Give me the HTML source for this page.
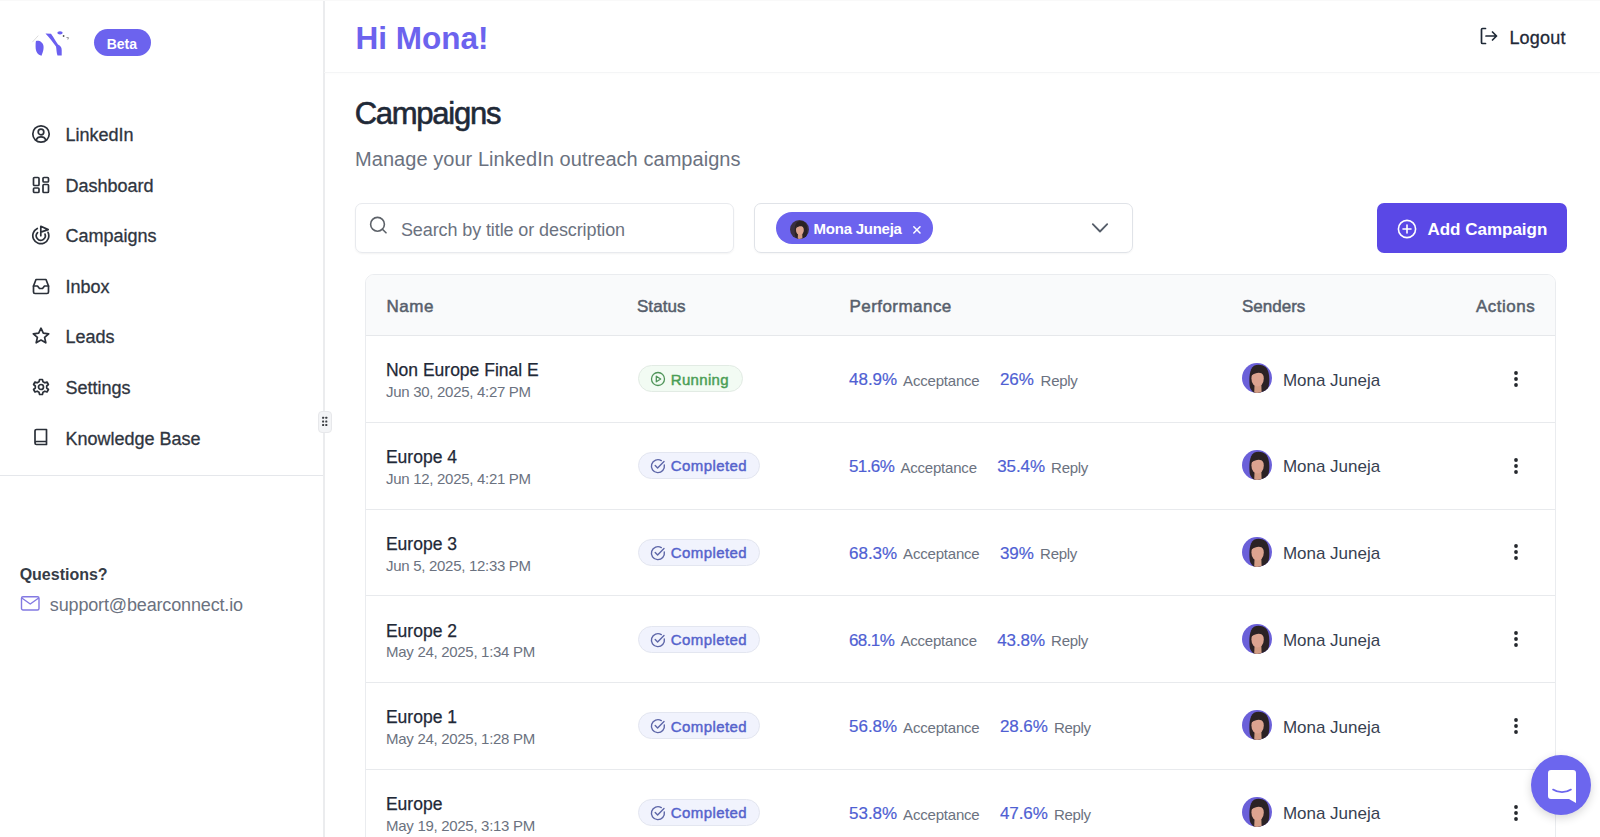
<!DOCTYPE html>
<html><head><meta charset="utf-8"><title>Campaigns</title>
<style>
html,body{margin:0;padding:0;width:1600px;height:837px;overflow:hidden;background:#fff;font-family:"Liberation Sans",sans-serif;}
.t{position:absolute;white-space:nowrap;line-height:1;}
.perf{display:flex;align-items:baseline;font-size:17px}
.perf .num{color:#4f5fd3;font-size:17px;-webkit-text-stroke:0.2px #4f5fd3}
.perf .lab{color:#6b7280;font-size:15px;margin-left:6px;letter-spacing:-0.2px}
</style></head><body>
<div style="position:absolute;left:0;top:0;width:323px;height:837px;border-right:2px solid #ebecee;background:#fff"></div>
<svg style="position:absolute;left:25px;top:25px" width="50" height="37" viewBox="0 0 50 37">
<path d="M11,16 C14,15 18,17 18.5,21 C19,25 17,29 16.5,30.7 C13,30 10.6,27 10.6,22 C10.6,19 10.6,17 11,16 Z" fill="#6b5ff0"/>
<path d="M20.5,8.5 L26,8.8 C29,13 31,17 33,19.5 C35.5,21 36.7,22 36.7,25 L36.7,30.5 L32.5,30.5 C31.5,28 31.5,24 31,21.5 C28,17 24,12.5 20.5,8.5 Z" fill="#6b5ff0"/>
<ellipse cx="35" cy="7.8" rx="2.7" ry="1.6" fill="#6b5ff0"/>
<circle cx="38.6" cy="11" r="0.9" fill="#555"/>
<path d="M41.5,12.5 L43.5,12.7 L42.8,14.5" stroke="#666" stroke-width="0.7" fill="none"/>
<path d="M7.3,17.2 L13.3,10.6" stroke="#bbb" stroke-width="0.5"/>
</svg>
<div style="position:absolute;left:94px;top:29px;width:57px;height:27px;border-radius:14px;background:#6c63ee"></div>
<div class="t" style="left:106.66px;top:36.55px;font-size:14px;font-weight:700;color:#fff;letter-spacing:0px;">Beta</div>
<svg style="position:absolute;left:30.5px;top:124.00px" width="20" height="20" viewBox="0 0 20 20" fill="none" stroke="#2b3039" stroke-width="1.7" stroke-linecap="round" stroke-linejoin="round"><circle cx="10" cy="10" r="8.2"/><circle cx="10" cy="8" r="2.8"/><path d="M5.3,15.7 C6,13.8 7.8,12.8 10,12.8 C12.2,12.8 14,13.8 14.7,15.7"/></svg>
<div class="t" style="left:65.42px;top:126.26px;font-size:18px;font-weight:400;color:#2f3540;letter-spacing:0px;-webkit-text-stroke:0.3px #2f3540;">LinkedIn</div>
<svg style="position:absolute;left:30.5px;top:174.54px" width="20" height="20" viewBox="0 0 20 20" fill="none" stroke="#2b3039" stroke-width="1.7" stroke-linecap="round" stroke-linejoin="round"><rect x="2.5" y="2.5" width="5.5" height="8" rx="1"/><rect x="12" y="2.5" width="5.5" height="4.5" rx="1"/><rect x="2.5" y="13" width="5.5" height="4.5" rx="1"/><rect x="12" y="9.5" width="5.5" height="8" rx="1"/></svg>
<div class="t" style="left:65.42px;top:176.80px;font-size:18px;font-weight:400;color:#2f3540;letter-spacing:0px;-webkit-text-stroke:0.3px #2f3540;">Dashboard</div>
<svg style="position:absolute;left:30.5px;top:225.08px" width="20" height="20" viewBox="0 0 20 20" fill="none" stroke="#2b3039" stroke-width="1.7" stroke-linecap="round" stroke-linejoin="round"><path d="M6.3,3.5 A8,8 0 1 0 17.05,7.32"/><path d="M6.56,7.57 A4.5,4.5 0 1 0 14.03,9.16"/><path d="M9.8,10.7 L9.8,1.3 L17.2,4.6 L9.8,7.1"/></svg>
<div class="t" style="left:65.42px;top:227.34px;font-size:18px;font-weight:400;color:#2f3540;letter-spacing:0px;-webkit-text-stroke:0.3px #2f3540;">Campaigns</div>
<svg style="position:absolute;left:30.5px;top:275.62px" width="20" height="20" viewBox="0 0 20 20" fill="none" stroke="#2b3039" stroke-width="1.7" stroke-linecap="round" stroke-linejoin="round"><path d="M2.5,10 L2.5,16 A1.5,1.5 0 0 0 4,17.5 L16,17.5 A1.5,1.5 0 0 0 17.5,16 L17.5,10 L15,3.5 L5,3.5 Z"/><path d="M2.5,10 L6.5,10 L8.5,12.5 L11.5,12.5 L13.5,10 L17.5,10"/></svg>
<div class="t" style="left:65.42px;top:277.88px;font-size:18px;font-weight:400;color:#2f3540;letter-spacing:0px;-webkit-text-stroke:0.3px #2f3540;">Inbox</div>
<svg style="position:absolute;left:30.5px;top:326.16px" width="20" height="20" viewBox="0 0 20 20" fill="none" stroke="#2b3039" stroke-width="1.7" stroke-linecap="round" stroke-linejoin="round"><path d="M10,2.2 L12.3,7.2 L17.7,7.8 L13.6,11.4 L14.8,16.8 L10,14 L5.2,16.8 L6.4,11.4 L2.3,7.8 L7.7,7.2 Z" stroke-linejoin="round"/></svg>
<div class="t" style="left:65.42px;top:328.42px;font-size:18px;font-weight:400;color:#2f3540;letter-spacing:0px;-webkit-text-stroke:0.3px #2f3540;">Leads</div>
<svg style="position:absolute;left:30.5px;top:376.70px" width="20" height="20" viewBox="0 0 20 20" fill="none" stroke="#2b3039" stroke-width="1.7" stroke-linecap="round" stroke-linejoin="round"><path d="M8.6,2.5 L11.4,2.5 L12,4.8 L13.8,5.8 L16,5 L17.4,7.5 L15.7,9 L15.7,11 L17.4,12.5 L16,15 L13.8,14.2 L12,15.2 L11.4,17.5 L8.6,17.5 L8,15.2 L6.2,14.2 L4,15 L2.6,12.5 L4.3,11 L4.3,9 L2.6,7.5 L4,5 L6.2,5.8 L8,4.8 Z" stroke-linejoin="round"/><circle cx="10" cy="10" r="2.5"/></svg>
<div class="t" style="left:65.42px;top:378.96px;font-size:18px;font-weight:400;color:#2f3540;letter-spacing:0px;-webkit-text-stroke:0.3px #2f3540;">Settings</div>
<svg style="position:absolute;left:30.5px;top:427.24px" width="20" height="20" viewBox="0 0 20 20" fill="none" stroke="#2b3039" stroke-width="1.7" stroke-linecap="round" stroke-linejoin="round"><path d="M4,16 L4,4 A1.5,1.5 0 0 1 5.5,2.5 L15.5,2.5 L15.5,17.5 L5.5,17.5 A1.5,1.5 0 0 1 4,16 A1.5,1.5 0 0 1 5.5,14.5 L15.5,14.5"/></svg>
<div class="t" style="left:65.42px;top:429.50px;font-size:18px;font-weight:400;color:#2f3540;letter-spacing:0px;-webkit-text-stroke:0.3px #2f3540;">Knowledge Base</div>
<div style="position:absolute;left:0;top:475px;width:323px;height:1px;background:#e5e7eb"></div>
<div class="t" style="left:19.64px;top:567.26px;font-size:16px;font-weight:700;color:#363c46;letter-spacing:0px;">Questions?</div>
<svg style="position:absolute;left:20px;top:595px" width="21" height="17" viewBox="0 0 21 17" fill="none" stroke="#8379e2" stroke-width="1.4" stroke-linejoin="round"><rect x="1.5" y="1.8" width="17.5" height="13.2" rx="1.5"/><path d="M1.8,3 L10.25,9 L18.7,3"/></svg>
<div class="t" style="left:49.82px;top:595.96px;font-size:18px;font-weight:400;color:#6b7280;letter-spacing:-0.15px;">support@bearconnect.io</div>
<div style="position:absolute;left:318px;top:411px;width:11.5px;height:19.5px;border-radius:4px;background:#f3f4f6;border:1px solid #e7e8eb"></div>
<svg style="position:absolute;left:318px;top:411px" width="14" height="21" viewBox="0 0 14 21" fill="#3a3d42"><rect x="4.1" y="5.8" width="2" height="2" rx="0.5"/><rect x="7.3" y="5.8" width="2" height="2" rx="0.5"/><rect x="4.1" y="9.4" width="2" height="2" rx="0.5"/><rect x="7.3" y="9.4" width="2" height="2" rx="0.5"/><rect x="4.1" y="13" width="2" height="2" rx="0.5"/><rect x="7.3" y="13" width="2" height="2" rx="0.5"/></svg>
<div style="position:absolute;left:0;top:0;width:1600px;height:1px;background:#f9f9f9"></div>
<div style="position:absolute;left:324px;top:72px;width:1276px;height:1px;background:#f4f5f6;box-shadow:0 1px 2px rgba(0,0,0,0.02)"></div>
<div class="t" style="left:355.61px;top:23.04px;font-size:31.5px;font-weight:700;color:#6c63ee;letter-spacing:0px;">Hi Mona!</div>
<svg style="position:absolute;left:1478px;top:26px" width="22" height="20" viewBox="0 0 22 20" fill="none" stroke="#1f2937" stroke-width="1.7" stroke-linecap="round" stroke-linejoin="round"><path d="M7.5,2.5 L4.5,2.5 A1,1 0 0 0 3.5,3.5 L3.5,16.5 A1,1 0 0 0 4.5,17.5 L7.5,17.5"/><path d="M8,10 L18.5,10 M14.5,6 L18.5,10 L14.5,14"/></svg>
<div class="t" style="left:1509.42px;top:29.06px;font-size:18px;font-weight:400;color:#1f2937;letter-spacing:0.2px;-webkit-text-stroke:0.3px #1f2937;">Logout</div>
<div class="t" style="left:354.64px;top:98.16px;font-size:31px;font-weight:400;color:#1f2937;letter-spacing:-1.25px;-webkit-text-stroke:0.6px #1f2937;">Campaigns</div>
<div class="t" style="left:355.05px;top:149.32px;font-size:20px;font-weight:400;color:#6b7280;letter-spacing:0.05px;">Manage your LinkedIn outreach campaigns</div>
<div style="position:absolute;left:355px;top:203px;width:377px;height:48px;border:1px solid #e8eaee;border-radius:7px;box-shadow:0 1px 2px rgba(0,0,0,0.05)"></div>
<svg style="position:absolute;left:367px;top:216px" width="22" height="22" viewBox="0 0 22 22" fill="none" stroke="#5d6269" stroke-width="1.6" stroke-linecap="round"><circle cx="10.5" cy="8.3" r="6.9"/><path d="M15.4,13.2 L19,16.8"/></svg>
<div class="t" style="left:400.92px;top:220.76px;font-size:18px;font-weight:400;color:#6b7280;letter-spacing:-0.1px;">Search by title or description</div>
<div style="position:absolute;left:754px;top:203px;width:377px;height:48px;border:1px solid #e0e3e8;border-radius:7px;box-shadow:0 1px 2px rgba(0,0,0,0.04)"></div>
<div style="position:absolute;left:776px;top:212px;width:157px;height:32px;border-radius:16px;background:#6c63ee"></div>
<svg style="position:absolute;left:789.50px;top:219.50px" width="19.0" height="19.0" viewBox="0 0 30 30"><defs><clipPath id="c1"><circle cx="15" cy="15" r="15"/></clipPath></defs><g clip-path="url(#c1)"><rect width="30" height="30" fill="#3b3040"/><path d="M7.8,24 C6.8,16 7.2,6 12,2.8 C15,1 20,1.2 23.5,4 C27,7 27.6,14 27.2,20 C26.8,25 25,28 23,30 L19,30 L12,30 C9.8,28 8.3,26 7.8,24 Z" fill="#2b2225"/><path d="M12.6,20 L19.3,20 L19.6,30 L12.2,30 Z" fill="#d29c84"/><ellipse cx="15.6" cy="15.6" rx="6.2" ry="8" fill="#dca390"/><path d="M9.4,12.5 C10.3,6.5 13.8,4.6 17.4,5 C21,5.5 22.4,8.5 22.2,12.8 C20,9.2 15,8.6 9.4,12.5 Z" fill="#2b2225"/></g></svg>
<div class="t" style="left:813.60px;top:221.05px;font-size:15px;font-weight:700;color:#fff;letter-spacing:-0.25px;">Mona Juneja</div>
<svg style="position:absolute;left:911px;top:223.5px" width="12" height="12" viewBox="0 0 12 12" stroke="#fff" stroke-width="1.5" stroke-linecap="round"><path d="M2.8,2.8 L9,9 M9,2.8 L2.8,9"/></svg>
<svg style="position:absolute;left:1090px;top:221px" width="20" height="14" viewBox="0 0 20 14" fill="none" stroke="#555d69" stroke-width="1.8" stroke-linecap="round" stroke-linejoin="round"><path d="M2.8,3.2 L10,10.5 L17.2,3.2"/></svg>
<div style="position:absolute;left:1377px;top:203px;width:190px;height:50px;border-radius:7px;background:#5a48e6"></div>
<svg style="position:absolute;left:1396px;top:217.5px" width="22" height="22" viewBox="0 0 22 22" fill="none" stroke="#fff" stroke-width="1.6" stroke-linecap="round"><circle cx="11" cy="11" r="8.6"/><path d="M11,7 L11,15 M7,11 L15,11"/></svg>
<div class="t" style="left:1427.38px;top:220.61px;font-size:17px;font-weight:700;color:#fff;letter-spacing:0px;">Add Campaign</div>
<div style="position:absolute;left:365px;top:273.5px;width:1189px;height:700px;border:1px solid #eaecef;border-radius:9px;background:#fff;overflow:hidden"><div style="position:absolute;left:0;top:0;width:100%;height:60.5px;background:#f9fafb;border-bottom:1px solid #e6e8eb"></div></div>
<div class="t" style="left:386.38px;top:297.61px;font-size:17px;font-weight:400;color:#575f6c;letter-spacing:0.6px;-webkit-text-stroke:0.5px #575f6c;">Name</div>
<div class="t" style="left:636.88px;top:297.61px;font-size:17px;font-weight:400;color:#575f6c;letter-spacing:0.1px;-webkit-text-stroke:0.5px #575f6c;">Status</div>
<div class="t" style="left:849.48px;top:297.61px;font-size:17px;font-weight:400;color:#575f6c;letter-spacing:0.45px;-webkit-text-stroke:0.5px #575f6c;">Performance</div>
<div class="t" style="left:1241.98px;top:297.61px;font-size:17px;font-weight:400;color:#575f6c;letter-spacing:0px;-webkit-text-stroke:0.5px #575f6c;">Senders</div>
<div class="t" style="left:1475.98px;top:297.61px;font-size:17px;font-weight:400;color:#575f6c;letter-spacing:0.5px;-webkit-text-stroke:0.5px #575f6c;">Actions</div>
<div class="t" style="left:385.95px;top:362.46px;font-size:17.5px;font-weight:400;color:#1f2937;letter-spacing:0px;-webkit-text-stroke:0.25px #1f2937;">Non Europe Final E</div>
<div class="t" style="left:386.10px;top:384.08px;font-size:15px;font-weight:400;color:#6b7280;letter-spacing:-0.3px;">Jun 30, 2025, 4:27 PM</div>
<div style="position:absolute;left:637.5px;top:365.48px;width:103px;height:25px;border-radius:14px;background:#f2fbf3;border:1px solid #e2ebe4"></div>
<svg style="position:absolute;left:649px;top:370.27px" width="18" height="18" viewBox="0 0 18 18" fill="none" stroke="#4f9459" stroke-width="1.3" stroke-linejoin="round"><circle cx="9" cy="9" r="6.5"/><path d="M7.3,6.2 L11.7,9 L7.3,11.8 Z"/></svg>
<div class="t" style="left:670.85px;top:371.68px;font-size:15px;font-weight:400;color:#4a9e55;letter-spacing:0.3px;-webkit-text-stroke:0.45px #4a9e55;">Running</div>
<div class="t" style="left:848.98px;top:371.28px;font-size:17px;font-weight:400;color:#4f5fd3;letter-spacing:0px;-webkit-text-stroke:0.2px #4f5fd3;">48.9%</div>
<div class="t" style="left:903.10px;top:372.98px;font-size:15px;font-weight:400;color:#6b7280;letter-spacing:-0.2px;">Acceptance</div>
<div class="t" style="left:999.98px;top:371.28px;font-size:17px;font-weight:400;color:#4f5fd3;letter-spacing:-0.1px;-webkit-text-stroke:0.2px #4f5fd3;">26%</div>
<div class="t" style="left:1040.60px;top:372.98px;font-size:15px;font-weight:400;color:#6b7280;letter-spacing:-0.3px;">Reply</div>
<svg style="position:absolute;left:1242.00px;top:363.48px" width="30" height="30" viewBox="0 0 30 30"><defs><clipPath id="c2"><circle cx="15" cy="15" r="15"/></clipPath></defs><g clip-path="url(#c2)"><rect width="30" height="30" fill="#6b60d9"/><path d="M7.8,24 C6.8,16 7.2,6 12,2.8 C15,1 20,1.2 23.5,4 C27,7 27.6,14 27.2,20 C26.8,25 25,28 23,30 L19,30 L12,30 C9.8,28 8.3,26 7.8,24 Z" fill="#2b2225"/><path d="M12.6,20 L19.3,20 L19.6,30 L12.2,30 Z" fill="#d29c84"/><ellipse cx="15.6" cy="15.6" rx="6.2" ry="8" fill="#dca390"/><path d="M9.4,12.5 C10.3,6.5 13.8,4.6 17.4,5 C21,5.5 22.4,8.5 22.2,12.8 C20,9.2 15,8.6 9.4,12.5 Z" fill="#2b2225"/></g></svg>
<div class="t" style="left:1282.88px;top:371.58px;font-size:17px;font-weight:400;color:#374151;letter-spacing:0px;">Mona Juneja</div>
<svg style="position:absolute;left:1509.8px;top:366.88px" width="12" height="24" viewBox="0 0 12 24" fill="#25282d"><circle cx="6" cy="6" r="1.9"/><circle cx="6" cy="12" r="1.9"/><circle cx="6" cy="18" r="1.9"/></svg>
<div style="position:absolute;left:366px;top:421.75px;width:1189px;height:1px;background:#e8eaed"></div>
<div class="t" style="left:385.95px;top:449.21px;font-size:17.5px;font-weight:400;color:#1f2937;letter-spacing:0px;-webkit-text-stroke:0.25px #1f2937;">Europe 4</div>
<div class="t" style="left:386.10px;top:470.83px;font-size:15px;font-weight:400;color:#6b7280;letter-spacing:-0.3px;">Jun 12, 2025, 4:21 PM</div>
<div style="position:absolute;left:637.5px;top:452.23px;width:120.5px;height:25px;border-radius:14px;background:#f1f3fd;border:1px solid #e3e6f0"></div>
<svg style="position:absolute;left:649px;top:457.02px" width="18" height="18" viewBox="0 0 18 18" fill="none" stroke="#5d66a8" stroke-width="1.4" stroke-linecap="round" stroke-linejoin="round"><path d="M15.3,8 A6.5,6.5 0 1 1 12.3,3.6"/><path d="M6.2,8.6 L8.6,11 L15,4.6"/></svg>
<div class="t" style="left:670.85px;top:458.33px;font-size:15px;font-weight:400;color:#5563cc;letter-spacing:0.4px;-webkit-text-stroke:0.45px #5563cc;">Completed</div>
<div class="t" style="left:848.98px;top:458.03px;font-size:17px;font-weight:400;color:#4f5fd3;letter-spacing:-0.6px;-webkit-text-stroke:0.2px #4f5fd3;">51.6%</div>
<div class="t" style="left:900.40px;top:459.73px;font-size:15px;font-weight:400;color:#6b7280;letter-spacing:-0.2px;">Acceptance</div>
<div class="t" style="left:997.28px;top:458.03px;font-size:17px;font-weight:400;color:#4f5fd3;letter-spacing:-0.1px;-webkit-text-stroke:0.2px #4f5fd3;">35.4%</div>
<div class="t" style="left:1051.10px;top:459.73px;font-size:15px;font-weight:400;color:#6b7280;letter-spacing:-0.3px;">Reply</div>
<svg style="position:absolute;left:1242.00px;top:450.23px" width="30" height="30" viewBox="0 0 30 30"><defs><clipPath id="c3"><circle cx="15" cy="15" r="15"/></clipPath></defs><g clip-path="url(#c3)"><rect width="30" height="30" fill="#6b60d9"/><path d="M7.8,24 C6.8,16 7.2,6 12,2.8 C15,1 20,1.2 23.5,4 C27,7 27.6,14 27.2,20 C26.8,25 25,28 23,30 L19,30 L12,30 C9.8,28 8.3,26 7.8,24 Z" fill="#2b2225"/><path d="M12.6,20 L19.3,20 L19.6,30 L12.2,30 Z" fill="#d29c84"/><ellipse cx="15.6" cy="15.6" rx="6.2" ry="8" fill="#dca390"/><path d="M9.4,12.5 C10.3,6.5 13.8,4.6 17.4,5 C21,5.5 22.4,8.5 22.2,12.8 C20,9.2 15,8.6 9.4,12.5 Z" fill="#2b2225"/></g></svg>
<div class="t" style="left:1282.88px;top:458.33px;font-size:17px;font-weight:400;color:#374151;letter-spacing:0px;">Mona Juneja</div>
<svg style="position:absolute;left:1509.8px;top:453.62px" width="12" height="24" viewBox="0 0 12 24" fill="#25282d"><circle cx="6" cy="6" r="1.9"/><circle cx="6" cy="12" r="1.9"/><circle cx="6" cy="18" r="1.9"/></svg>
<div style="position:absolute;left:366px;top:508.50px;width:1189px;height:1px;background:#e8eaed"></div>
<div class="t" style="left:385.95px;top:535.96px;font-size:17.5px;font-weight:400;color:#1f2937;letter-spacing:0px;-webkit-text-stroke:0.25px #1f2937;">Europe 3</div>
<div class="t" style="left:386.10px;top:557.58px;font-size:15px;font-weight:400;color:#6b7280;letter-spacing:-0.3px;">Jun 5, 2025, 12:33 PM</div>
<div style="position:absolute;left:637.5px;top:538.98px;width:120.5px;height:25px;border-radius:14px;background:#f1f3fd;border:1px solid #e3e6f0"></div>
<svg style="position:absolute;left:649px;top:543.77px" width="18" height="18" viewBox="0 0 18 18" fill="none" stroke="#5d66a8" stroke-width="1.4" stroke-linecap="round" stroke-linejoin="round"><path d="M15.3,8 A6.5,6.5 0 1 1 12.3,3.6"/><path d="M6.2,8.6 L8.6,11 L15,4.6"/></svg>
<div class="t" style="left:670.85px;top:545.08px;font-size:15px;font-weight:400;color:#5563cc;letter-spacing:0.4px;-webkit-text-stroke:0.45px #5563cc;">Completed</div>
<div class="t" style="left:848.98px;top:544.78px;font-size:17px;font-weight:400;color:#4f5fd3;letter-spacing:0px;-webkit-text-stroke:0.2px #4f5fd3;">68.3%</div>
<div class="t" style="left:903.10px;top:546.48px;font-size:15px;font-weight:400;color:#6b7280;letter-spacing:-0.2px;">Acceptance</div>
<div class="t" style="left:999.98px;top:544.78px;font-size:17px;font-weight:400;color:#4f5fd3;letter-spacing:-0.1px;-webkit-text-stroke:0.2px #4f5fd3;">39%</div>
<div class="t" style="left:1040.10px;top:546.48px;font-size:15px;font-weight:400;color:#6b7280;letter-spacing:-0.3px;">Reply</div>
<svg style="position:absolute;left:1242.00px;top:536.98px" width="30" height="30" viewBox="0 0 30 30"><defs><clipPath id="c4"><circle cx="15" cy="15" r="15"/></clipPath></defs><g clip-path="url(#c4)"><rect width="30" height="30" fill="#6b60d9"/><path d="M7.8,24 C6.8,16 7.2,6 12,2.8 C15,1 20,1.2 23.5,4 C27,7 27.6,14 27.2,20 C26.8,25 25,28 23,30 L19,30 L12,30 C9.8,28 8.3,26 7.8,24 Z" fill="#2b2225"/><path d="M12.6,20 L19.3,20 L19.6,30 L12.2,30 Z" fill="#d29c84"/><ellipse cx="15.6" cy="15.6" rx="6.2" ry="8" fill="#dca390"/><path d="M9.4,12.5 C10.3,6.5 13.8,4.6 17.4,5 C21,5.5 22.4,8.5 22.2,12.8 C20,9.2 15,8.6 9.4,12.5 Z" fill="#2b2225"/></g></svg>
<div class="t" style="left:1282.88px;top:545.08px;font-size:17px;font-weight:400;color:#374151;letter-spacing:0px;">Mona Juneja</div>
<svg style="position:absolute;left:1509.8px;top:540.38px" width="12" height="24" viewBox="0 0 12 24" fill="#25282d"><circle cx="6" cy="6" r="1.9"/><circle cx="6" cy="12" r="1.9"/><circle cx="6" cy="18" r="1.9"/></svg>
<div style="position:absolute;left:366px;top:595.25px;width:1189px;height:1px;background:#e8eaed"></div>
<div class="t" style="left:385.95px;top:622.71px;font-size:17.5px;font-weight:400;color:#1f2937;letter-spacing:0px;-webkit-text-stroke:0.25px #1f2937;">Europe 2</div>
<div class="t" style="left:386.10px;top:644.33px;font-size:15px;font-weight:400;color:#6b7280;letter-spacing:-0.3px;">May 24, 2025, 1:34 PM</div>
<div style="position:absolute;left:637.5px;top:625.73px;width:120.5px;height:25px;border-radius:14px;background:#f1f3fd;border:1px solid #e3e6f0"></div>
<svg style="position:absolute;left:649px;top:630.52px" width="18" height="18" viewBox="0 0 18 18" fill="none" stroke="#5d66a8" stroke-width="1.4" stroke-linecap="round" stroke-linejoin="round"><path d="M15.3,8 A6.5,6.5 0 1 1 12.3,3.6"/><path d="M6.2,8.6 L8.6,11 L15,4.6"/></svg>
<div class="t" style="left:670.85px;top:631.83px;font-size:15px;font-weight:400;color:#5563cc;letter-spacing:0.4px;-webkit-text-stroke:0.45px #5563cc;">Completed</div>
<div class="t" style="left:848.98px;top:631.53px;font-size:17px;font-weight:400;color:#4f5fd3;letter-spacing:-0.6px;-webkit-text-stroke:0.2px #4f5fd3;">68.1%</div>
<div class="t" style="left:900.40px;top:633.23px;font-size:15px;font-weight:400;color:#6b7280;letter-spacing:-0.2px;">Acceptance</div>
<div class="t" style="left:997.28px;top:631.53px;font-size:17px;font-weight:400;color:#4f5fd3;letter-spacing:-0.1px;-webkit-text-stroke:0.2px #4f5fd3;">43.8%</div>
<div class="t" style="left:1051.10px;top:633.23px;font-size:15px;font-weight:400;color:#6b7280;letter-spacing:-0.3px;">Reply</div>
<svg style="position:absolute;left:1242.00px;top:623.73px" width="30" height="30" viewBox="0 0 30 30"><defs><clipPath id="c5"><circle cx="15" cy="15" r="15"/></clipPath></defs><g clip-path="url(#c5)"><rect width="30" height="30" fill="#6b60d9"/><path d="M7.8,24 C6.8,16 7.2,6 12,2.8 C15,1 20,1.2 23.5,4 C27,7 27.6,14 27.2,20 C26.8,25 25,28 23,30 L19,30 L12,30 C9.8,28 8.3,26 7.8,24 Z" fill="#2b2225"/><path d="M12.6,20 L19.3,20 L19.6,30 L12.2,30 Z" fill="#d29c84"/><ellipse cx="15.6" cy="15.6" rx="6.2" ry="8" fill="#dca390"/><path d="M9.4,12.5 C10.3,6.5 13.8,4.6 17.4,5 C21,5.5 22.4,8.5 22.2,12.8 C20,9.2 15,8.6 9.4,12.5 Z" fill="#2b2225"/></g></svg>
<div class="t" style="left:1282.88px;top:631.83px;font-size:17px;font-weight:400;color:#374151;letter-spacing:0px;">Mona Juneja</div>
<svg style="position:absolute;left:1509.8px;top:627.12px" width="12" height="24" viewBox="0 0 12 24" fill="#25282d"><circle cx="6" cy="6" r="1.9"/><circle cx="6" cy="12" r="1.9"/><circle cx="6" cy="18" r="1.9"/></svg>
<div style="position:absolute;left:366px;top:682.00px;width:1189px;height:1px;background:#e8eaed"></div>
<div class="t" style="left:385.95px;top:709.46px;font-size:17.5px;font-weight:400;color:#1f2937;letter-spacing:0px;-webkit-text-stroke:0.25px #1f2937;">Europe 1</div>
<div class="t" style="left:386.10px;top:731.08px;font-size:15px;font-weight:400;color:#6b7280;letter-spacing:-0.3px;">May 24, 2025, 1:28 PM</div>
<div style="position:absolute;left:637.5px;top:712.48px;width:120.5px;height:25px;border-radius:14px;background:#f1f3fd;border:1px solid #e3e6f0"></div>
<svg style="position:absolute;left:649px;top:717.27px" width="18" height="18" viewBox="0 0 18 18" fill="none" stroke="#5d66a8" stroke-width="1.4" stroke-linecap="round" stroke-linejoin="round"><path d="M15.3,8 A6.5,6.5 0 1 1 12.3,3.6"/><path d="M6.2,8.6 L8.6,11 L15,4.6"/></svg>
<div class="t" style="left:670.85px;top:718.58px;font-size:15px;font-weight:400;color:#5563cc;letter-spacing:0.4px;-webkit-text-stroke:0.45px #5563cc;">Completed</div>
<div class="t" style="left:848.98px;top:718.28px;font-size:17px;font-weight:400;color:#4f5fd3;letter-spacing:0px;-webkit-text-stroke:0.2px #4f5fd3;">56.8%</div>
<div class="t" style="left:903.10px;top:719.98px;font-size:15px;font-weight:400;color:#6b7280;letter-spacing:-0.2px;">Acceptance</div>
<div class="t" style="left:999.98px;top:718.28px;font-size:17px;font-weight:400;color:#4f5fd3;letter-spacing:-0.1px;-webkit-text-stroke:0.2px #4f5fd3;">28.6%</div>
<div class="t" style="left:1053.90px;top:719.98px;font-size:15px;font-weight:400;color:#6b7280;letter-spacing:-0.3px;">Reply</div>
<svg style="position:absolute;left:1242.00px;top:710.48px" width="30" height="30" viewBox="0 0 30 30"><defs><clipPath id="c6"><circle cx="15" cy="15" r="15"/></clipPath></defs><g clip-path="url(#c6)"><rect width="30" height="30" fill="#6b60d9"/><path d="M7.8,24 C6.8,16 7.2,6 12,2.8 C15,1 20,1.2 23.5,4 C27,7 27.6,14 27.2,20 C26.8,25 25,28 23,30 L19,30 L12,30 C9.8,28 8.3,26 7.8,24 Z" fill="#2b2225"/><path d="M12.6,20 L19.3,20 L19.6,30 L12.2,30 Z" fill="#d29c84"/><ellipse cx="15.6" cy="15.6" rx="6.2" ry="8" fill="#dca390"/><path d="M9.4,12.5 C10.3,6.5 13.8,4.6 17.4,5 C21,5.5 22.4,8.5 22.2,12.8 C20,9.2 15,8.6 9.4,12.5 Z" fill="#2b2225"/></g></svg>
<div class="t" style="left:1282.88px;top:718.58px;font-size:17px;font-weight:400;color:#374151;letter-spacing:0px;">Mona Juneja</div>
<svg style="position:absolute;left:1509.8px;top:713.88px" width="12" height="24" viewBox="0 0 12 24" fill="#25282d"><circle cx="6" cy="6" r="1.9"/><circle cx="6" cy="12" r="1.9"/><circle cx="6" cy="18" r="1.9"/></svg>
<div style="position:absolute;left:366px;top:768.75px;width:1189px;height:1px;background:#e8eaed"></div>
<div class="t" style="left:385.95px;top:796.21px;font-size:17.5px;font-weight:400;color:#1f2937;letter-spacing:0px;-webkit-text-stroke:0.25px #1f2937;">Europe</div>
<div class="t" style="left:386.10px;top:817.83px;font-size:15px;font-weight:400;color:#6b7280;letter-spacing:-0.3px;">May 19, 2025, 3:13 PM</div>
<div style="position:absolute;left:637.5px;top:799.23px;width:120.5px;height:25px;border-radius:14px;background:#f1f3fd;border:1px solid #e3e6f0"></div>
<svg style="position:absolute;left:649px;top:804.02px" width="18" height="18" viewBox="0 0 18 18" fill="none" stroke="#5d66a8" stroke-width="1.4" stroke-linecap="round" stroke-linejoin="round"><path d="M15.3,8 A6.5,6.5 0 1 1 12.3,3.6"/><path d="M6.2,8.6 L8.6,11 L15,4.6"/></svg>
<div class="t" style="left:670.85px;top:805.33px;font-size:15px;font-weight:400;color:#5563cc;letter-spacing:0.4px;-webkit-text-stroke:0.45px #5563cc;">Completed</div>
<div class="t" style="left:848.98px;top:805.03px;font-size:17px;font-weight:400;color:#4f5fd3;letter-spacing:0px;-webkit-text-stroke:0.2px #4f5fd3;">53.8%</div>
<div class="t" style="left:903.10px;top:806.73px;font-size:15px;font-weight:400;color:#6b7280;letter-spacing:-0.2px;">Acceptance</div>
<div class="t" style="left:999.98px;top:805.03px;font-size:17px;font-weight:400;color:#4f5fd3;letter-spacing:-0.1px;-webkit-text-stroke:0.2px #4f5fd3;">47.6%</div>
<div class="t" style="left:1053.90px;top:806.73px;font-size:15px;font-weight:400;color:#6b7280;letter-spacing:-0.3px;">Reply</div>
<svg style="position:absolute;left:1242.00px;top:797.23px" width="30" height="30" viewBox="0 0 30 30"><defs><clipPath id="c7"><circle cx="15" cy="15" r="15"/></clipPath></defs><g clip-path="url(#c7)"><rect width="30" height="30" fill="#6b60d9"/><path d="M7.8,24 C6.8,16 7.2,6 12,2.8 C15,1 20,1.2 23.5,4 C27,7 27.6,14 27.2,20 C26.8,25 25,28 23,30 L19,30 L12,30 C9.8,28 8.3,26 7.8,24 Z" fill="#2b2225"/><path d="M12.6,20 L19.3,20 L19.6,30 L12.2,30 Z" fill="#d29c84"/><ellipse cx="15.6" cy="15.6" rx="6.2" ry="8" fill="#dca390"/><path d="M9.4,12.5 C10.3,6.5 13.8,4.6 17.4,5 C21,5.5 22.4,8.5 22.2,12.8 C20,9.2 15,8.6 9.4,12.5 Z" fill="#2b2225"/></g></svg>
<div class="t" style="left:1282.88px;top:805.33px;font-size:17px;font-weight:400;color:#374151;letter-spacing:0px;">Mona Juneja</div>
<svg style="position:absolute;left:1509.8px;top:800.62px" width="12" height="24" viewBox="0 0 12 24" fill="#25282d"><circle cx="6" cy="6" r="1.9"/><circle cx="6" cy="12" r="1.9"/><circle cx="6" cy="18" r="1.9"/></svg>
<div style="position:absolute;left:1531px;top:755px;width:60px;height:60px;border-radius:50%;background:#6c66ee;box-shadow:0 3px 10px rgba(0,0,0,0.16)"></div>
<svg style="position:absolute;left:1546px;top:768px" width="32" height="36" viewBox="0 0 32 36"><path d="M5,2 L27,2 A3,3 0 0 1 30,5 L30,35 L23,31 L5,31 A3,3 0 0 1 2,28 L2,5 A3,3 0 0 1 5,2 Z" fill="#fff"/><path d="M7,21.5 C12,25 20,25 25,21.5" fill="none" stroke="#6c66ee" stroke-width="1.6" stroke-linecap="round"/></svg>

</body></html>
